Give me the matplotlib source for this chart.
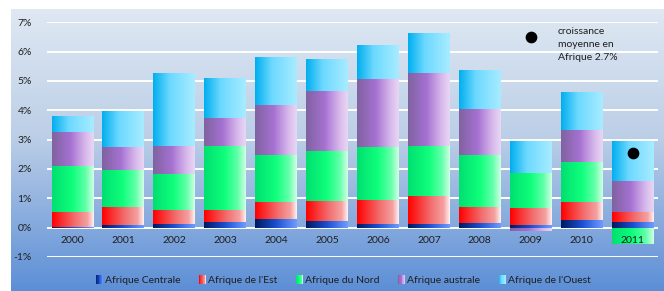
import numpy as np
import matplotlib
matplotlib.use("Agg")
import matplotlib.pyplot as plt
from matplotlib.colors import LinearSegmentedColormap
from matplotlib.legend_handler import HandlerBase
from matplotlib.patches import Rectangle

plt.rcParams['font.family'] = ['Lato', 'DejaVu Sans']

years = ['2000', '2001', '2002', '2003', '2004', '2005', '2006', '2007', '2008', '2009', '2010', '2011']
centrale = [0.03, 0.09, 0.14, 0.20, 0.30, 0.23, 0.14, 0.14, 0.16, 0.09, 0.27, 0.20]
est      = [0.52, 0.62, 0.47, 0.41, 0.59, 0.68, 0.81, 0.95, 0.55, 0.59, 0.62, 0.32]
nord     = [1.56, 1.26, 1.23, 2.19, 1.59, 1.71, 1.80, 1.71, 1.77, 1.18, 1.36, -0.55]
australe = [1.16, 0.78, 0.96, 0.95, 1.70, 2.04, 2.32, 2.47, 1.57, -0.11, 1.09, 1.07]
ouest    = [0.54, 1.21, 2.47, 1.35, 1.64, 1.09, 1.14, 1.37, 1.34, 1.10, 1.30, 1.37]
series_names = ['Afrique Centrale', "Afrique de l'Est", 'Afrique du Nord', 'Afrique australe', "Afrique de l'Ouest"]
moyenne_idx = 11
moyenne_val = 2.56
yticks = [-1, 0, 1, 2, 3, 4, 5, 6, 7]

stops = [
    [(0, '#001a5e'), (0.5, '#1a4fd0'), (1, '#6f9cff')],
    [(0, '#ff0000'), (0.55, '#f26f6f'), (0.85, '#f5a0a0'), (1, '#fff2f2')],
    [(0, '#00e070'), (0.5, '#10ff7c'), (0.8, '#60ffa8'), (1, '#d0ffe4')],
    [(0, '#8062a0'), (0.45, '#a672d2'), (0.8, '#d8b8ec'), (1, '#e8d8f4')],
    [(0, '#00aeef'), (0.4, '#6cd9ff'), (1, '#a8ecff')],
]
cmaps = [LinearSegmentedColormap.from_list('g%d' % i, s) for i, s in enumerate(stops)]
txt_color = '#1e1e1e'

W, H = 664, 291
fig = plt.figure(figsize=(W / 100, H / 100), dpi=100)
fig.patch.set_facecolor('white')

# background gradient
bg = fig.add_axes([11 / W, 0, 1 - 11 / W, (H - 9) / H], zorder=0)
bg_cmap = LinearSegmentedColormap.from_list('bg', [(0, '#dfe8f3'), (0.45, '#bccfe7'), (1, '#5c8ed6')])
bg.imshow(np.linspace(0, 1, 256).reshape(-1, 1), aspect='auto', cmap=bg_cmap, extent=[0, 1, 0, 1])
bg.set_axis_off()

ax = fig.add_axes([47 / W, 1 - 257 / H, (658 - 47) / W, (257 - 22.3) / H], zorder=1)
ax.patch.set_alpha(0)
x = np.arange(len(years))
data = [centrale, est, nord, australe, ouest]
pos_base = np.zeros(len(years))
neg_base = np.zeros(len(years))
grad = np.linspace(0, 1, 128).reshape(1, -1)
for vals, cm in zip(data, cmaps):
    v = np.array(vals)
    bottoms = np.where(v >= 0, pos_base, neg_base)
    bars = ax.bar(x, v, width=0.82, bottom=bottoms, facecolor='none', edgecolor='none', zorder=3)
    for p in bars:
        bx, by = p.get_x(), p.get_y()
        bw, bh = p.get_width(), p.get_height()
        y0, y1 = sorted([by, by + bh])
        im = ax.imshow(grad, extent=[bx, bx + bw, y0, y1], aspect='auto', cmap=cm, zorder=3)
        im.set_clip_path(p)
    pos_base = pos_base + np.where(v >= 0, v, 0)
    neg_base = neg_base + np.where(v < 0, v, 0)

ax.scatter([moyenne_idx], [moyenne_val], s=55, color='black', zorder=5)

ax.set_xlim(-0.5, len(years) - 0.5)
ax.set_ylim(-1, 7)
ax.set_yticks(yticks)
ax.set_yticklabels(['%d%%' % t for t in yticks])
ax.set_xticks(x)
ax.set_xticklabels(years)
ax.yaxis.grid(True, color='white', linewidth=1.4, zorder=1)
ax.set_axisbelow(True)
ax.xaxis.set_zorder(6)
for s in ax.spines.values():
    s.set_visible(False)
ax.tick_params(axis='both', length=0, labelsize=7.5, labelcolor=txt_color)
ax.tick_params(axis='y', pad=11)
ax.tick_params(axis='x', pad=-15)
for lbl in ax.get_xticklabels():
    lbl.set_zorder(6)

# annotation
ax.scatter([0.792], [0.937], s=55, color='black', transform=ax.transAxes, zorder=5, clip_on=False)
ax.text(0.836, 0.98, 'croissance\nmoyenne en\nAfrique 2.7%', transform=ax.transAxes,
        ha='left', va='top', fontsize=7.5, color=txt_color, linespacing=1.6)


class GradHandler(HandlerBase):
    def __init__(self, cmap):
        super().__init__()
        self.cmap = cmap

    def create_artists(self, legend, orig_handle, xdescent, ydescent, width, height, fontsize, trans):
        n = 10
        arts = []
        for i in range(n):
            r = Rectangle((-xdescent + i * width / n, -ydescent), width / n + 0.01, height,
                          facecolor=self.cmap((i + 0.5) / n), edgecolor='none', transform=trans)
            arts.append(r)
        return arts


handles = [Rectangle((0, 0), 1, 1) for _ in series_names]
hmap = {h: GradHandler(cm) for h, cm in zip(handles, cmaps)}
fig.legend(handles, series_names, handler_map=hmap, loc='center', bbox_to_anchor=(0.517, 0.038),
           ncol=5, frameon=False, fontsize=7.5, handlelength=0.7, handleheight=1.0,
           handletextpad=0.2, columnspacing=1.75, labelcolor=txt_color)

fig.savefig('out.png', dpi=100, facecolor=fig.get_facecolor())
